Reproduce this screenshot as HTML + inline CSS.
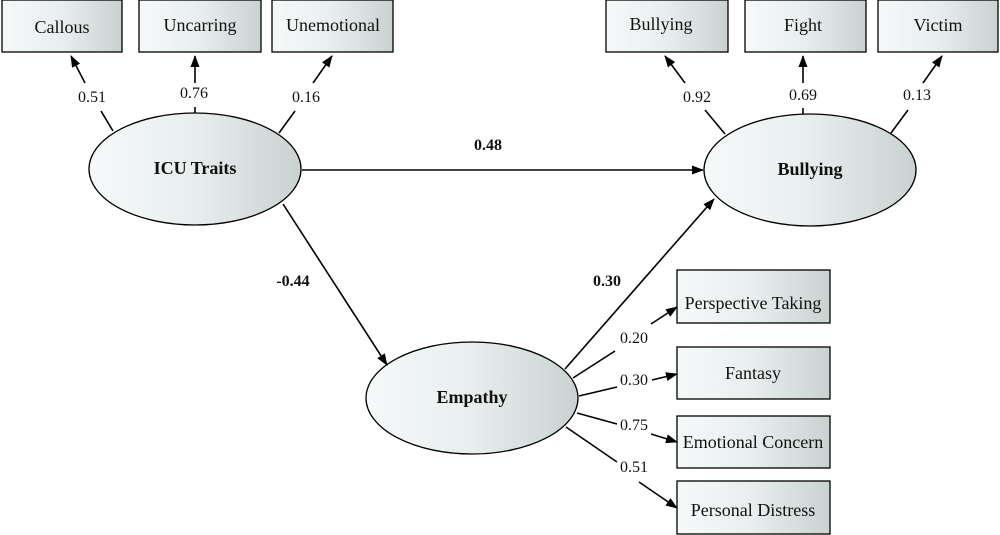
<!DOCTYPE html>
<html><head><meta charset="utf-8"><style>
html,body{margin:0;padding:0;background:#fff;}
svg{display:block;font-family:"Liberation Serif",serif;}
</style></head><body>
<svg width="1000" height="535" viewBox="0 0 1000 535">
<defs>
<linearGradient id="g" x1="0" x2="1" y1="0" y2="0">
<stop offset="0" stop-color="#f6f9f9"/><stop offset="0.5" stop-color="#e8eeee"/><stop offset="1" stop-color="#c9d1d1"/>
</linearGradient>
<marker id="a" markerWidth="12" markerHeight="9" refX="11" refY="4.5" orient="auto" markerUnits="userSpaceOnUse">
<path d="M0,0 L12,4.5 L0,9 Z" fill="#000"/></marker>
</defs>
<g fill="url(#g)" stroke="#000" stroke-width="1.3">
<rect x="2" y="0" width="120" height="52"/>
<rect x="139" y="0" width="122" height="52"/>
<rect x="272" y="0" width="121" height="52"/>
<rect x="606" y="0" width="122" height="52"/>
<rect x="745" y="0" width="121" height="52"/>
<rect x="878" y="0" width="120" height="52"/>
<rect x="677" y="270" width="153" height="53"/>
<rect x="677" y="347" width="153" height="52"/>
<rect x="677" y="416" width="153" height="52"/>
<rect x="677" y="481" width="153" height="53"/>
<ellipse cx="195" cy="169" rx="106" ry="56"/>
<ellipse cx="810" cy="170" rx="106" ry="56"/>
<ellipse cx="472" cy="398" rx="106" ry="56"/>
</g>
<g stroke="#000" stroke-width="1.6" fill="none">
<line x1="113" y1="131" x2="101" y2="111"/><line x1="85" y1="83" x2="71" y2="56" marker-end="url(#a)"/>
<line x1="195" y1="113" x2="195" y2="107"/><line x1="195" y1="83" x2="195" y2="56" marker-end="url(#a)"/>
<line x1="279" y1="133" x2="295" y2="111"/><line x1="313" y1="83" x2="332" y2="56" marker-end="url(#a)"/>
<line x1="725" y1="134" x2="705" y2="110"/><line x1="685" y1="83" x2="665" y2="56" marker-end="url(#a)"/>
<line x1="803" y1="114" x2="803" y2="108"/><line x1="803" y1="83" x2="803" y2="56" marker-end="url(#a)"/>
<line x1="891" y1="133" x2="908" y2="110"/><line x1="923" y1="83" x2="942" y2="56" marker-end="url(#a)"/>
<line x1="302" y1="170" x2="703" y2="170" marker-end="url(#a)"/>
<line x1="283" y1="204" x2="387" y2="365" marker-end="url(#a)"/>
<line x1="565" y1="369" x2="714" y2="199" marker-end="url(#a)"/>
<line x1="573" y1="378" x2="615" y2="351"/><line x1="651" y1="324" x2="677" y2="307" marker-end="url(#a)"/>
<line x1="579" y1="396" x2="617" y2="387"/><line x1="652" y1="380" x2="677" y2="374" marker-end="url(#a)"/>
<line x1="577" y1="413" x2="617" y2="424"/><line x1="651" y1="434" x2="677" y2="442" marker-end="url(#a)"/>
<line x1="566" y1="427" x2="617" y2="462"/><line x1="639" y1="482" x2="677" y2="508" marker-end="url(#a)"/>
</g>
<g font-size="18" text-anchor="middle" fill="#111">
<text x="62" y="33">Callous</text>
<text x="200" y="31">Uncarring</text>
<text x="333" y="31">Unemotional</text>
<text x="661" y="30">Bullying</text>
<text x="803" y="31">Fight</text>
<text x="938" y="31">Victim</text>
<text x="753" y="309">Perspective Taking</text>
<text x="753" y="379">Fantasy</text>
<text x="753" y="448">Emotional Concern</text>
<text x="753" y="516">Personal Distress</text>
</g>
<g font-size="16" text-anchor="middle" fill="#111">
<text x="92" y="102">0.51</text>
<text x="194" y="98">0.76</text>
<text x="306" y="102">0.16</text>
<text x="697" y="102">0.92</text>
<text x="803" y="100">0.69</text>
<text x="917" y="100">0.13</text>
<text x="634" y="343">0.20</text>
<text x="634" y="385">0.30</text>
<text x="634" y="430">0.75</text>
<text x="634" y="472">0.51</text>
</g>
<g font-size="18" font-weight="bold" text-anchor="middle" fill="#111">
<text x="195" y="174">ICU Traits</text>
<text x="810" y="175">Bullying</text>
<text x="472" y="403">Empathy</text>
<text x="488" y="150" font-size="16">0.48</text>
<text x="293" y="286" font-size="16">-0.44</text>
<text x="607" y="286" font-size="16">0.30</text>
</g>
</svg>
</body></html>
